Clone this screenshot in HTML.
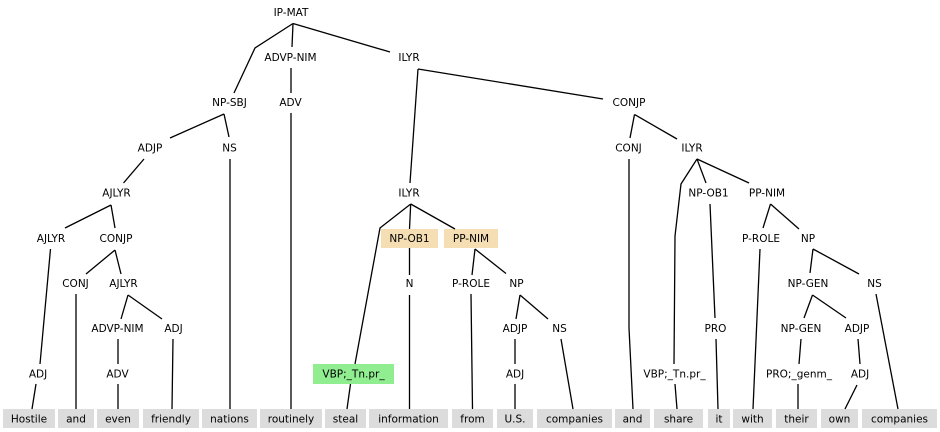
<!DOCTYPE html>
<html><head><meta charset="utf-8"><style>
html,body{margin:0;padding:0;background:#fff;}
svg{display:block;}
text{font-family:"DejaVu Sans","Liberation Sans",sans-serif;font-size:10.5px;fill:#000;text-anchor:middle;}
</style></head><body>
<svg width="940" height="432" viewBox="0 0 940 432" xmlns="http://www.w3.org/2000/svg">
<g fill="#dcdcdc">
<rect x="3" y="409" width="52" height="19"/>
<rect x="58" y="409" width="36" height="19"/>
<rect x="97" y="409" width="42" height="19"/>
<rect x="143" y="409" width="56" height="19"/>
<rect x="202" y="409" width="55" height="19"/>
<rect x="260" y="409" width="62" height="19"/>
<rect x="325" y="409" width="41" height="19"/>
<rect x="369" y="409" width="79" height="19"/>
<rect x="452" y="409" width="41" height="19"/>
<rect x="497" y="409" width="36" height="19"/>
<rect x="537" y="409" width="75" height="19"/>
<rect x="615" y="409" width="35" height="19"/>
<rect x="654" y="409" width="49" height="19"/>
<rect x="708" y="409" width="22" height="19"/>
<rect x="733" y="409" width="39" height="19"/>
<rect x="776" y="409" width="41" height="19"/>
<rect x="821" y="409" width="37" height="19"/>
<rect x="862" y="409" width="75" height="19"/>
</g>
<rect x="381" y="229" width="57" height="19" fill="#f5deb3"/>
<rect x="444" y="229" width="54" height="19" fill="#f5deb3"/>
<rect x="313" y="364" width="81" height="20" fill="#90ee90"/>
<g stroke="#000" stroke-width="1.3" fill="none">
<polyline points="293,23.5 255,48 234,93"/>
<polyline points="293,23.5 292,47"/>
<polyline points="293,23.5 390,52"/>
<polyline points="291,68 291,93"/>
<polyline points="291,113 291,409"/>
<polyline points="224,114 170,138"/>
<polyline points="224,114 229,137"/>
<polyline points="230,159 230,409"/>
<polyline points="144,159 123.5,183"/>
<polyline points="111,205 65,228"/>
<polyline points="111,205 115,228"/>
<polyline points="50.5,249 40,364"/>
<polyline points="36,384 32,409"/>
<polyline points="115,250 86,274"/>
<polyline points="115,250 121,274"/>
<polyline points="76,294 76,409"/>
<polyline points="128,295 121,319"/>
<polyline points="128,295 162,319"/>
<polyline points="118,339 118,364"/>
<polyline points="118,384 118,409"/>
<polyline points="173,339 172,409"/>
<polyline points="418,69 603,99"/>
<polyline points="418,69 410,183"/>
<polyline points="634.5,114.5 630,138"/>
<polyline points="634.5,114.5 677,139"/>
<polyline points="629,159 629,328 633,409"/>
<polyline points="410.7,204 380,228 355,364"/>
<polyline points="410.7,204 409.5,229"/>
<polyline points="410.7,204 455,229"/>
<polyline points="350.5,384 347,409"/>
<polyline points="409.5,248 409.5,275"/>
<polyline points="409.5,295 409.5,409"/>
<polyline points="475,249 472,275"/>
<polyline points="475,249 506,273.5"/>
<polyline points="471,294 472.5,409"/>
<polyline points="520,295 516,319"/>
<polyline points="520,295 548,319"/>
<polyline points="515,339 515,364"/>
<polyline points="515,384 515,409"/>
<polyline points="561,339 573,409"/>
<polyline points="697,159 681,184 675,236 674,364"/>
<polyline points="697,159 706,183"/>
<polyline points="697,159 749,183"/>
<polyline points="675,384 677,409"/>
<polyline points="710,204 715,318"/>
<polyline points="716,339 718,409"/>
<polyline points="770.5,204 763,228"/>
<polyline points="770.5,204 799,229"/>
<polyline points="760,249 753,409"/>
<polyline points="813,249 810,273"/>
<polyline points="813,249 859,274"/>
<polyline points="812.5,295 804,318"/>
<polyline points="812.5,295 846,318"/>
<polyline points="876,294 898,409"/>
<polyline points="801,339 799,364"/>
<polyline points="798,384 798,409"/>
<polyline points="858,339 860,364"/>
<polyline points="857,385 845,409"/>
</g>
<!-- row 0 -->
<text x="291" y="15.8">IP-MAT</text>
<!-- row 1 -->
<text x="290.5" y="61">ADVP-NIM</text>
<text x="409" y="61">ILYR</text>
<!-- row 2 -->
<text x="229.5" y="106.2">NP-SBJ</text>
<text x="290.5" y="106.2">ADV</text>
<text x="629" y="106.2">CONJP</text>
<!-- row 3 -->
<text x="150" y="151.4">ADJP</text>
<text x="229.5" y="151.4">NS</text>
<text x="628.5" y="151.4">CONJ</text>
<text x="692" y="151.4">ILYR</text>
<!-- row 4 -->
<text x="116.5" y="196.6">AJLYR</text>
<text x="409" y="196.6">ILYR</text>
<text x="708.5" y="196.6">NP-OB1</text>
<text x="767" y="196.6">PP-NIM</text>
<!-- row 5 -->
<text x="51" y="241.8">AJLYR</text>
<text x="116" y="241.8">CONJP</text>
<text x="409.5" y="241.8">NP-OB1</text>
<text x="471" y="241.8">PP-NIM</text>
<text x="761" y="241.8">P-ROLE</text>
<text x="808" y="241.8">NP</text>
<!-- row 6 -->
<text x="75.5" y="287">CONJ</text>
<text x="123.5" y="287">AJLYR</text>
<text x="409.5" y="287">N</text>
<text x="471" y="287">P-ROLE</text>
<text x="516.5" y="287">NP</text>
<text x="808" y="287">NP-GEN</text>
<text x="874.5" y="287">NS</text>
<!-- row 7 -->
<text x="117.5" y="332.2">ADVP-NIM</text>
<text x="173.5" y="332.2">ADJ</text>
<text x="515" y="332.2">ADJP</text>
<text x="559.5" y="332.2">NS</text>
<text x="715.5" y="332.2">PRO</text>
<text x="801" y="332.2">NP-GEN</text>
<text x="857" y="332.2">ADJP</text>
<!-- row 8 -->
<text x="38" y="377.4">ADJ</text>
<text x="117.5" y="377.4">ADV</text>
<text x="353.5" y="377.6">VBP;_Tn.pr_</text>
<text x="515" y="377.4">ADJ</text>
<text x="674.5" y="377.4">VBP;_Tn.pr_</text>
<text x="799" y="377.4">PRO;_genm_</text>
<text x="860" y="377.4">ADJ</text>
<!-- leaves -->
<text x="29" y="422.5">Hostile</text>
<text x="76" y="422.5">and</text>
<text x="118" y="422.5">even</text>
<text x="171" y="422.5">friendly</text>
<text x="229.5" y="422.5">nations</text>
<text x="291" y="422.5">routinely</text>
<text x="345.5" y="422.5">steal</text>
<text x="408.5" y="422.5">information</text>
<text x="472.5" y="422.5">from</text>
<text x="515" y="422.5">U.S.</text>
<text x="574.5" y="422.5">companies</text>
<text x="632.5" y="422.5">and</text>
<text x="678.5" y="422.5">share</text>
<text x="719" y="422.5">it</text>
<text x="752.5" y="422.5">with</text>
<text x="796.5" y="422.5">their</text>
<text x="839.5" y="422.5">own</text>
<text x="899.5" y="422.5">companies</text>
</svg>
</body></html>
